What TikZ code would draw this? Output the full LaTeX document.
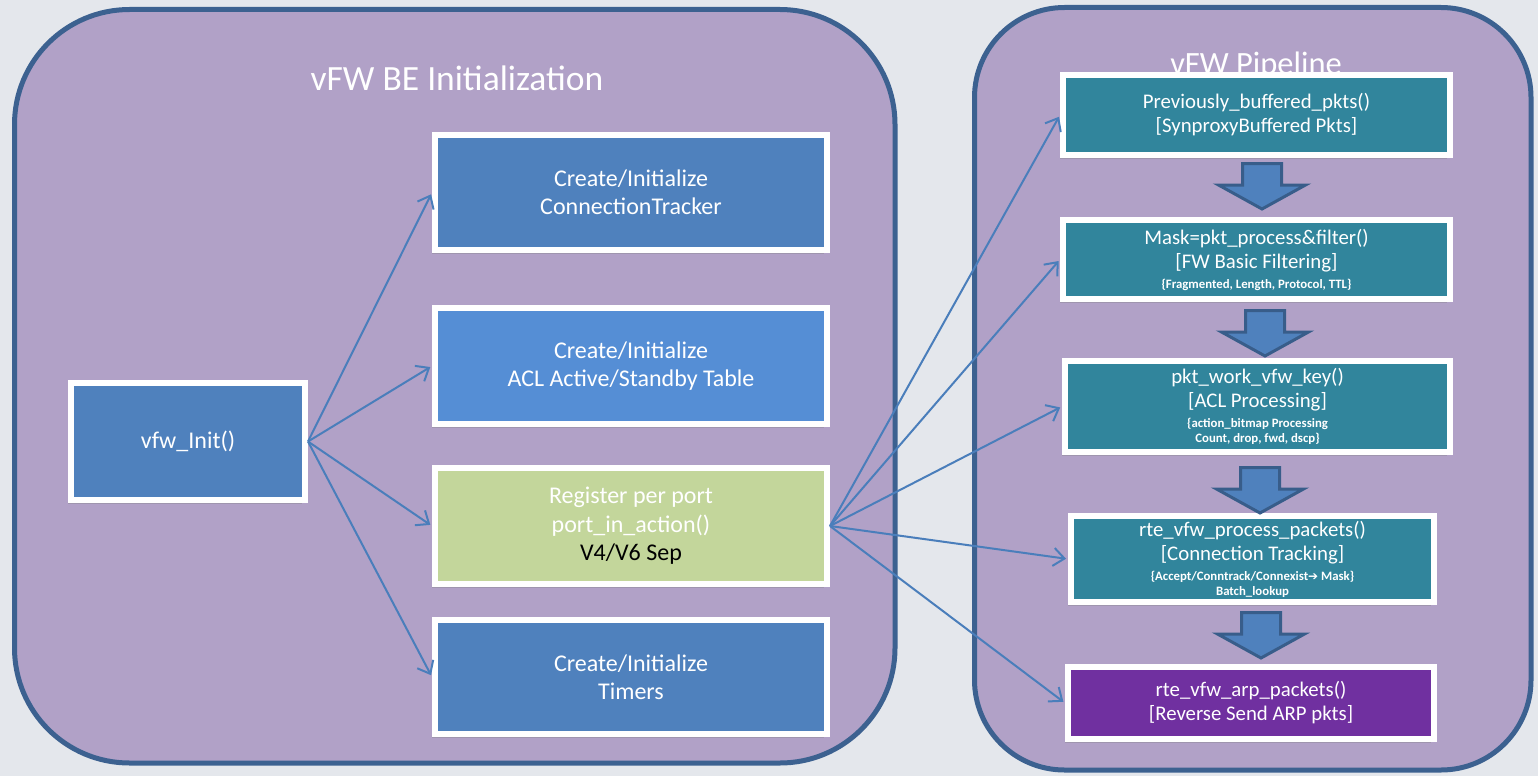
\documentclass[tikz,border=0pt]{standalone}
\usepackage{fontspec}
\setmainfont{Carlito}
\newfontfamily\djv{DejaVu Sans}
\usetikzlibrary{arrows.meta,shadows}
\definecolor{bgc}{HTML}{E4E7EC}
\definecolor{panelfill}{HTML}{B1A1C7}
\definecolor{paneldraw}{HTML}{3C6190}
\definecolor{boxblue}{HTML}{4F81BD}
\definecolor{boxlight}{HTML}{558ED5}
\definecolor{boxgreen}{HTML}{C3D69B}
\definecolor{boxteal}{HTML}{31859C}
\definecolor{boxpurple}{HTML}{7030A0}
\definecolor{conncol}{HTML}{4A7EBB}
\definecolor{arrowdraw}{HTML}{385D8A}
\newcommand\smallb{\fontsize{12.8}{15}\selectfont\bfseries}
\tikzset{
  panel/.style={fill=panelfill, draw=paneldraw, line width=5pt},
  titletext/.style={text=white, font=\fontsize{35.5}{40}\selectfont, inner sep=0pt},
  box/.style={draw=white, line width=6pt, text=white, align=center, inner sep=0pt,
    drop shadow={shadow xshift=-3pt, shadow yshift=-4pt, opacity=0.35}},
  lbox/.style={box, font=\fontsize{24}{28.5}\selectfont, minimum width=392pt},
  rbox/.style={box, fill=boxteal, font=\fontsize{20.8}{24}\selectfont},
  conn/.style={draw=conncol, line width=2pt, -{Straight Barb[length=11pt,width=18pt]}, shorten >=2pt},
  downarrow/.pic={\draw[fill=boxblue, draw=arrowdraw, line width=3pt, line join=miter]
     (-19.5,1.5) -- (19.5,1.5) -- (19.5,23) -- (43.5,23) -- (0,47) -- (-43.5,23) -- (-19.5,23) -- cycle;}
}
\begin{document}
\begin{tikzpicture}[x=1pt,y=-1pt]
\fill[bgc] (0,0) rectangle (1538,776);
\useasboundingbox (0,0) rectangle (1538,776);
% panels
\draw[panel, rounded corners=115pt] (14.5,9.5) rectangle (895,763);
\draw[panel, rounded corners=90pt] (974.5,7.5) rectangle (1531,770);
% titles
\node[titletext] (t1) at (457,78) {vFW BE Initialization};
\node[titletext, font=\fontsize{32.5}{36}\selectfont] (t2) at (1256,66) {vFW Pipeline};
% left boxes
\node[box, fill=boxblue, font=\fontsize{24}{28.5}\selectfont, minimum width=234pt, minimum height=117pt] (init) at (188,441.5) {vfw\_Init()};
\node[lbox, fill=boxblue, minimum height=115pt] (ct) at (631,192.5) {Create/Initialize\\ConnectionTracker};
\node[lbox, fill=boxlight, minimum height=116pt] (acl) at (631,366) {Create/Initialize\\ACL Active/Standby Table};
\node[lbox, fill=boxgreen, minimum height=116pt] (reg) at (631,526) {Register per port\\port\_in\_action()\\{\color{black}V4/V6 Sep}};
\node[lbox, fill=boxblue, minimum height=114pt] (tim) at (631,677) {Create/Initialize\\Timers};
% right boxes
\node[rbox, minimum width=387pt, minimum height=80pt] (prev) at (1256.5,115) {Previously\_buffered\_pkts()\\{[}SynproxyBuffered Pkts{]}};
\node[rbox, minimum width=387pt, minimum height=79pt] (mask) at (1256.5,259.5) {Mask=pkt\_process\&filter()\\{[}FW Basic Filtering{]}\\[-4pt]{\smallb\{Fragmented, Length, Protocol, TTL\}}};
\node[rbox, minimum width=385pt, minimum height=91pt] (pkt) at (1257.5,406.5) {pkt\_work\_vfw\_key()\\{[}ACL Processing{]}\\[-4pt]{\smallb\{action\_bitmap Processing}\\[-9pt]{\smallb Count, drop, fwd, dscp\}}};
\node[rbox, minimum width=363pt, minimum height=86pt] (rte) at (1252.5,559) {rte\_vfw\_process\_packets()\\{[}Connection Tracking{]}\\[-4pt]{\smallb\{Accept/Conntrack/Connexist{\djv\fontsize{12}{15}\selectfont ➔} Mask\}}\\[-9pt]{\smallb Batch\_lookup}};
\node[rbox, fill=boxpurple, minimum width=366pt, minimum height=72pt] (arp) at (1251,703) {rte\_vfw\_arp\_packets()\\{[}Reverse Send ARP pkts{]}};
% down arrows
\pic at (1262,162) {downarrow};
\pic at (1265,309) {downarrow};
\pic at (1260,466) {downarrow};
\pic at (1261,611) {downarrow};
% connectors
\draw[conn] (init.east) -- (ct.west);
\draw[conn] (init.east) -- (acl.west);
\draw[conn] (init.east) -- (reg.west);
\draw[conn] (init.east) -- (tim.west);
\draw[conn] (reg.east) -- (prev.west);
\draw[conn] (reg.east) -- (mask.west);
\draw[conn] (reg.east) -- (pkt.west);
\draw[conn] (reg.east) -- (rte.west);
\draw[conn] (reg.east) -- (arp.west);
\end{tikzpicture}
\end{document}
